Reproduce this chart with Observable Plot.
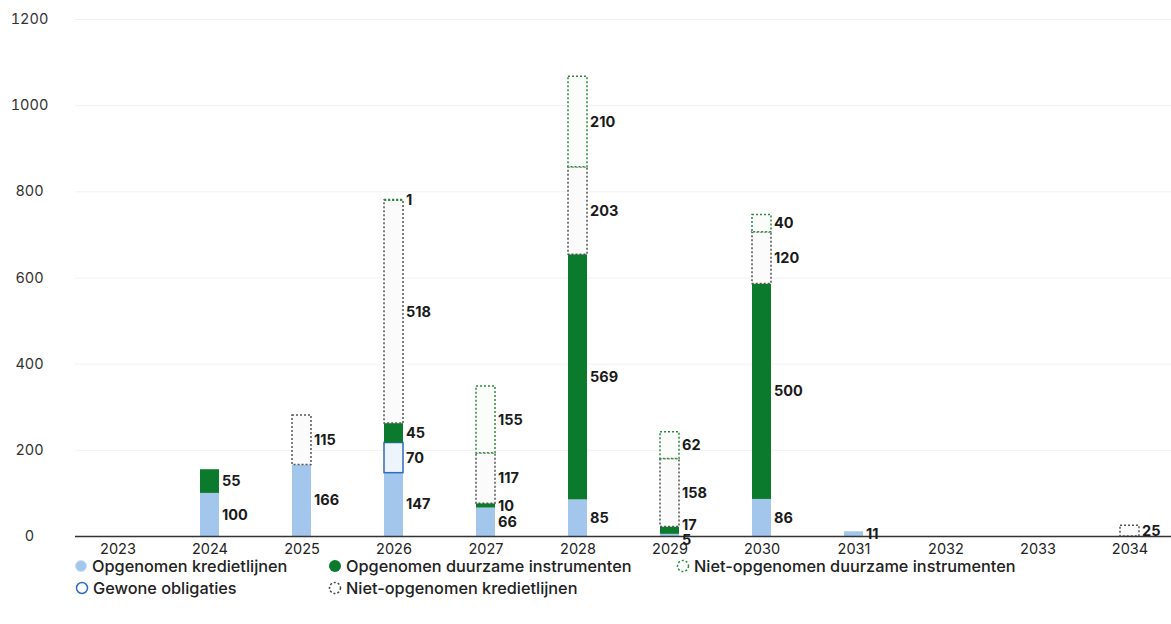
<!DOCTYPE html>
<html>
<head>
<meta charset="utf-8">
<script src="https://cdn.jsdelivr.net/npm/d3@7"></script>
<script src="https://cdn.jsdelivr.net/npm/@observablehq/plot@0.6"></script>
<style>
  html, body { margin: 0; padding: 0; background: #fff; }
  #wrap { position: relative; width: 1171px; height: 624px; font-family: Inter, "Noto Sans", sans-serif; color: #222; }
  .leg { position: absolute; display: flex; align-items: center; font-size: 16.3px; font-weight: 500; white-space: nowrap; line-height: 1; }
  .leg svg { margin-right: 4px; }
</style>
</head>
<body>
<div id="wrap">
  <div id="chart"></div>
  <div id="legend"></div>
</div>
<script>
const years = ["2023","2024","2025","2026","2027","2028","2029","2030","2031","2032","2033","2034"];
const yTicks = [0, 200, 400, 600, 800, 1000, 1200];

// Series values per year (bottom to top of stack)
const opgenomenKredietlijnen   = [0, 100, 166, 147, 66, 85, 5, 86, 11, 0, 0, 0];
const gewoneObligaties         = [0, 0, 0, 70, 0, 0, 0, 0, 0, 0, 0, 0];
const opgenomenDuurzaam        = [0, 55, 0, 45, 10, 569, 17, 500, 0, 0, 0, 0];
const nietOpgenomenKrediet     = [0, 0, 115, 518, 117, 203, 158, 120, 0, 0, 0, 25];
const nietOpgenomenDuurzaam    = [0, 0, 0, 1, 155, 210, 62, 40, 0, 0, 0, 0];

const seriesNames = [
  "Opgenomen kredietlijnen",
  "Gewone obligaties",
  "Opgenomen duurzame instrumenten",
  "Niet-opgenomen kredietlijnen",
  "Niet-opgenomen duurzame instrumenten"
];
const seriesValues = [opgenomenKredietlijnen, gewoneObligaties, opgenomenDuurzaam, nietOpgenomenKrediet, nietOpgenomenDuurzaam];

const styles = {
  "Opgenomen kredietlijnen": {fill: "#a3c7ec", stroke: "none"},
  "Gewone obligaties": {fill: "#eef4fb", stroke: "#2f6cc0", strokeWidth: 1.5},
  "Opgenomen duurzame instrumenten": {fill: "#0c7a2c", stroke: "none"},
  "Niet-opgenomen kredietlijnen": {fill: "#fbfbfb", stroke: "#555", strokeWidth: 1.5, strokeDasharray: "2,2"},
  "Niet-opgenomen duurzame instrumenten": {fill: "#fbfdfb", stroke: "#2e8a3e", strokeWidth: 1.5, strokeDasharray: "2,2"}
};

// Build stacked table
const rows = [];
years.forEach((year, i) => {
  let acc = 0;
  seriesNames.forEach((s, k) => {
    const v = seriesValues[k][i];
    if (v > 0) {
      rows.push({year, series: s, value: v, y1: acc, y2: acc + v});
      acc += v;
    }
  });
});

const marks = [
  Plot.ruleY(yTicks.filter(t => t > 0), {stroke: "#f1f1f1", strokeWidth: 1})
];
seriesNames.forEach(s => {
  marks.push(Plot.barY(rows.filter(r => r.series === s), {x: "year", y1: "y1", y2: "y2", ...styles[s]}));
});
marks.push(
  Plot.ruleY([0], {stroke: "#333", strokeWidth: 1.5}),
  Plot.text(rows, {x: "year", y: d => (d.y1 + d.y2) / 2, text: d => String(d.value), dx: 12, textAnchor: "start", fontWeight: 700, fontSize: 14.5, fill: "#1a1a1a", render: (index, scales, values, dims, ctx, next) => {
    // simple per-year label collision avoidance in pixel space
    const Y = values.y.slice();
    const byX = d3.group(index, i => values.x[i]);
    for (const [, idx] of byX) {
      const sorted = [...idx].sort((a, b) => Y[b] - Y[a]); // bottom first
      for (let k = 1; k < sorted.length; k++) {
        const lo = sorted[k - 1], hi = sorted[k];
        const gap = Y[lo] - Y[hi];
        if (gap < 15) {
          const push = (15 - gap) / 2;
          Y[lo] += push;
          Y[hi] -= push;
        }
      }
    }
    return next(index, scales, {...values, y: Y}, dims, ctx);
  }}),
  Plot.axisX({tickSize: 0, tickPadding: 7, fontSize: 14.5, color: "#222"}),
  Plot.axisY({ticks: yTicks, tickFormat: d => String(d), tickSize: 0, tickPadding: 46, textAnchor: "middle", fontSize: 14.5, color: "#333"})
);

const chart = Plot.plot({
  width: 1171,
  height: 560,
  marginLeft: 75,
  marginRight: 0,
  marginTop: 19,
  marginBottom: 24,
  style: {fontFamily: "Inter, 'Noto Sans', sans-serif", background: "white", color: "#222"},
  x: {type: "band", domain: years, paddingInner: 0.795, paddingOuter: 0.33, label: null},
  y: {domain: [0, 1200], label: null},
  marks
});
document.getElementById("chart").appendChild(chart);

// Legend
const legendItems = [
  {name: seriesNames[0], x: 74, y: 566, sym: `<circle cx="7" cy="7" r="5.5" fill="#a3c7ec" stroke="#c9ddf3" stroke-width="1"/>`},
  {name: seriesNames[2], x: 328, y: 566, sym: `<circle cx="7" cy="7" r="6" fill="#0c7a2c"/>`},
  {name: seriesNames[4], x: 676, y: 566, sym: `<circle cx="7" cy="7" r="5.5" fill="none" stroke="#2e8a3e" stroke-width="1.5" stroke-dasharray="2,2"/>`},
  {name: seriesNames[1], x: 75, y: 588, sym: `<circle cx="7" cy="7" r="5.5" fill="none" stroke="#2f6cc0" stroke-width="1.5"/>`},
  {name: seriesNames[3], x: 328, y: 588, sym: `<circle cx="7" cy="7" r="5.5" fill="none" stroke="#444" stroke-width="1.5" stroke-dasharray="2,2"/>`}
];
const leg = document.getElementById("legend");
legendItems.forEach(it => {
  const d = document.createElement("div");
  d.className = "leg";
  d.style.left = it.x + "px";
  d.style.top = (it.y - 8) + "px";
  d.innerHTML = `<svg width="14" height="14">${it.sym}</svg><span>${it.name}</span>`;
  leg.appendChild(d);
});
</script>
</body>
</html>
